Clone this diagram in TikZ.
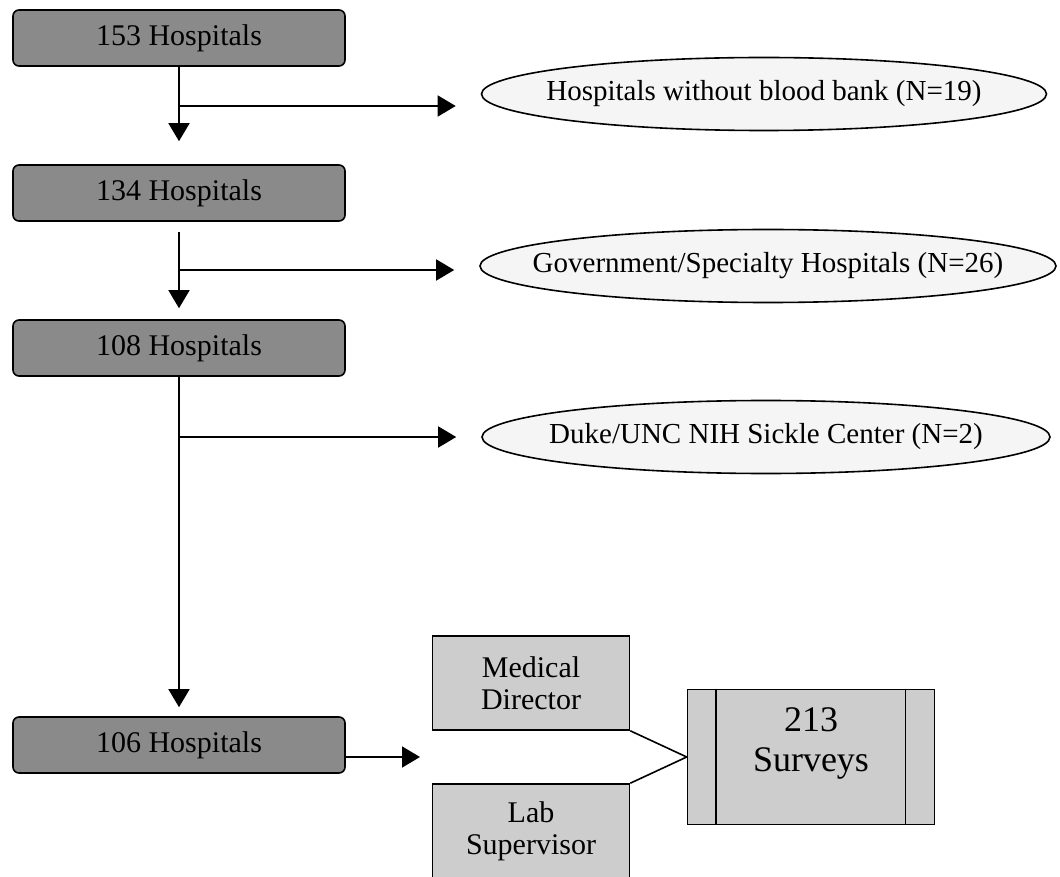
\documentclass[tikz,border=0pt]{standalone}
\usepackage{fontspec}
\setmainfont{Liberation Serif}
\usetikzlibrary{arrows.meta,shapes.geometric}
\definecolor{stepfill}{RGB}{138,138,138}
\definecolor{rolefill}{RGB}{205,205,205}
\definecolor{exclfill}{RGB}{245,245,245}
\begin{document}
\begin{tikzpicture}[x=1pt,y=-1pt,
  hosp/.style={draw, line width=1.6pt, rounded corners=6pt, fill=stepfill,
    minimum width=332pt, minimum height=56pt, inner sep=0pt,
    font=\fontsize{30}{34}\selectfont},
  excl/.style={ellipse, draw, line width=1.6pt, fill=exclfill,
    minimum height=73pt, inner sep=0pt, font=\fontsize{29}{33}\selectfont},
  role/.style={draw, line width=1.6pt, fill=rolefill, minimum width=197pt,
    minimum height=94pt, inner sep=0pt, align=center,
    font=\fontsize{30}{32}\selectfont},
  predef/.style={draw, line width=1.6pt, fill=rolefill, minimum width=247pt,
    minimum height=135pt, inner sep=0pt},
  arr/.style={line width=1.6pt, -{Triangle[length=18pt,width=21pt]}},
  link/.style={line width=1.6pt}]
\useasboundingbox (0,0) rectangle (1060,877);

% hospital counts down the left column
\node[hosp] (A) at (179,38)  {153 Hospitals};
\node[hosp] (B) at (179,193) {134 Hospitals};
\node[hosp] (C) at (179,348) {108 Hospitals};
\node[hosp] (D) at (179,745) {106 Hospitals};

% exclusions (text boxed at zero width so the ellipse keeps its set size)
\node[excl, minimum width=565pt] (E1) at (764,94)
  {\makebox[0pt]{Hospitals without blood bank (N=19)}};
\node[excl, minimum width=576pt] (E2) at (768,266)
  {\makebox[0pt]{Government/Specialty Hospitals (N=26)}};
\node[excl, minimum width=568pt] (E3) at (766,437)
  {\makebox[0pt]{Duke/UNC NIH Sickle Center (N=2)}};

% respondents and surveys
\node[role] (MD) at (531,683) {Medical\\Director};
\node[role] (LS) at (531,831) {Lab\\Supervisor};
\node[predef] (S) at (811,757) {};
\draw[link] ([xshift=29pt]S.north west) -- ([xshift=29pt]S.south west);
\draw[link] ([xshift=-30pt]S.north east) -- ([xshift=-30pt]S.south east);
\node[font=\fontsize{36}{40}\selectfont, align=center] (ST) at ([yshift=14pt]S.center) {213\\Surveys};

% branch points on the main flow
\coordinate (b1) at (179,106);
\coordinate (b2) at (179,270);
\coordinate (b3) at (179,437);
\coordinate (dtip) at (420,757);

% main flow
\draw[arr, shorten >=23pt] (A.south) -- (B.north);
\draw[arr, shorten <=10pt, shorten >=11pt] (B.south) -- (C.north);
\draw[arr, shorten >=9pt] (C.south) -- (D.north);

% exclusion arrows
\draw[arr, shorten >=25pt] (b1) -- (b1 -| E1.west);
\draw[arr, shorten >=25pt] (b2) -- (b2 -| E2.west);
\draw[arr, shorten >=25pt] (b3) -- (b3 -| E3.west);

% final step
\draw[arr] (D.east |- dtip) -- (dtip);
\draw[link] (MD.south east) -- (S.west);
\draw[link] (LS.north east) -- (S.west);
\end{tikzpicture}
\end{document}
